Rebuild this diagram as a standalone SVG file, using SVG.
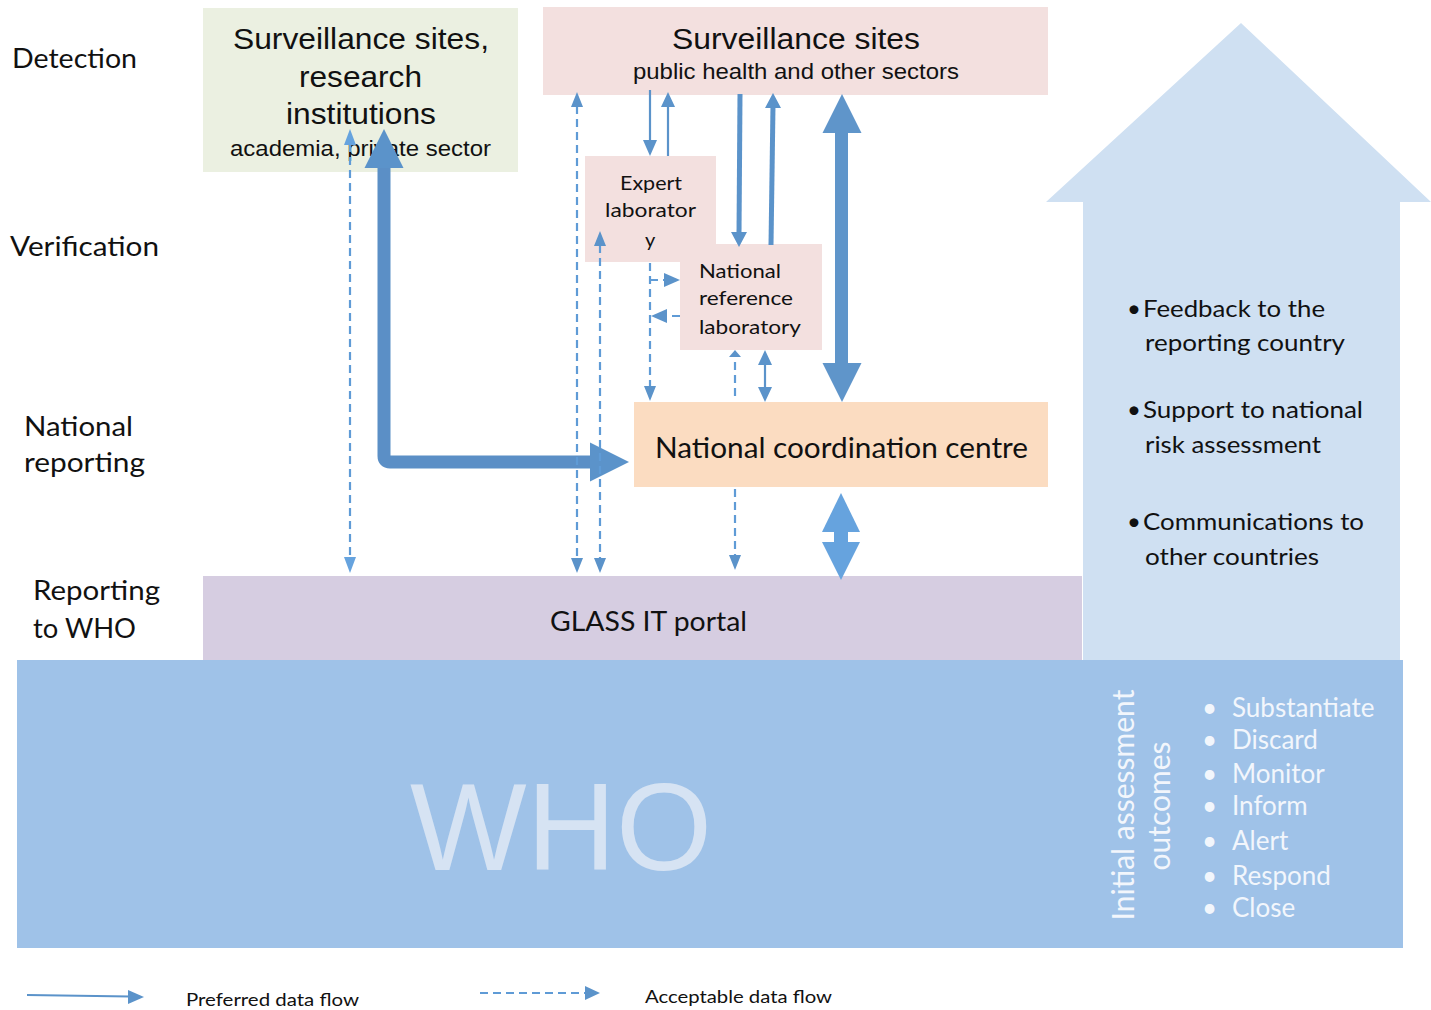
<svg xmlns="http://www.w3.org/2000/svg" width="1431" height="1010" viewBox="0 0 1431 1010">
<defs>
<style>
.arial{font-family:"Liberation Sans",Arial,sans-serif;fill:#111}
.cal{font-family:Lato,"Open Sans",sans-serif;fill:#111}
.wt{font-family:Lato,"Open Sans",sans-serif;fill:#F2F6FC}
.dash{stroke:#5F9BD6;stroke-width:2.2;stroke-dasharray:8 5;fill:none}
.thin{stroke:#5B93CA;stroke-width:2.2;fill:none}
.head{fill:#5B93CA}
.lhead{fill:#66A3DE}
</style>
</defs>
<rect width="1431" height="1010" fill="#fff"/>

<g id="feedback-arrow">
<polygon points="1046,202 1241,23 1431,202 1400,202 1400,660 1083,660 1083,202" fill="#CFE0F2"/>
<g class="cal" font-size="24" lengthAdjust="spacingAndGlyphs">
<text x="1127" y="317">•</text><text x="1143" y="317" textLength="182" lengthAdjust="spacingAndGlyphs">Feedback to the</text><text x="1145" y="351" textLength="200" lengthAdjust="spacingAndGlyphs">reporting country</text>
<text x="1127" y="418">•</text><text x="1143" y="418" textLength="220" lengthAdjust="spacingAndGlyphs">Support to national</text><text x="1145" y="453" textLength="176" lengthAdjust="spacingAndGlyphs">risk assessment</text>
<text x="1127" y="530">•</text><text x="1143" y="530" textLength="221" lengthAdjust="spacingAndGlyphs">Communications to</text><text x="1145" y="565" textLength="174" lengthAdjust="spacingAndGlyphs">other countries</text>
</g>
</g>

<g id="stage-labels" class="cal" font-size="26">
<text x="12" y="68" textLength="125" lengthAdjust="spacingAndGlyphs">Detection</text>
<text x="10" y="256" textLength="149" lengthAdjust="spacingAndGlyphs">Verification</text>
<text x="24" y="436" textLength="109" lengthAdjust="spacingAndGlyphs">National</text>
<text x="24" y="472" textLength="121" lengthAdjust="spacingAndGlyphs">reporting</text>
<text x="33" y="600" textLength="127" lengthAdjust="spacingAndGlyphs">Reporting</text>
<text x="33" y="638" textLength="103" lengthAdjust="spacingAndGlyphs">to WHO</text>
</g>

<g id="research-sites">
<rect x="203" y="8" width="315" height="164" fill="#EBF0E1"/>
<text class="arial" font-size="30" x="233" y="49" textLength="256" lengthAdjust="spacingAndGlyphs">Surveillance sites,</text>
<text class="arial" font-size="30" x="299" y="87" textLength="123" lengthAdjust="spacingAndGlyphs">research</text>
<text class="arial" font-size="30" x="286" y="124" textLength="150" lengthAdjust="spacingAndGlyphs">institutions</text>
<text class="arial" font-size="22" x="230" y="156" textLength="261" lengthAdjust="spacingAndGlyphs">academia, private sector</text>
</g>

<g id="public-sites">
<rect x="543" y="7" width="505" height="88" fill="#F3E0DF"/>
<text class="arial" font-size="30" x="672" y="49" textLength="248" lengthAdjust="spacingAndGlyphs">Surveillance sites</text>
<text class="arial" font-size="22" x="633" y="79" textLength="326" lengthAdjust="spacingAndGlyphs">public health and other sectors</text>
</g>

<g id="expert-lab">
<rect x="585" y="156" width="131" height="106" fill="#F3E0DF"/>
<text class="cal" font-size="20" x="620" y="190" textLength="62" lengthAdjust="spacingAndGlyphs">Expert</text>
<text class="cal" font-size="20" x="605" y="217" textLength="91" lengthAdjust="spacingAndGlyphs">laborator</text>
<text class="cal" font-size="20" x="645" y="247">y</text>
</g>

<g id="national-ref-lab">
<rect x="680" y="244" width="142" height="106" fill="#F3E0DF"/>
<text class="cal" font-size="20" x="699" y="278" textLength="82" lengthAdjust="spacingAndGlyphs">National</text>
<text class="cal" font-size="20" x="699" y="305" textLength="94" lengthAdjust="spacingAndGlyphs">reference</text>
<text class="cal" font-size="20" x="699" y="334" textLength="102" lengthAdjust="spacingAndGlyphs">laboratory</text>
</g>

<g id="ncc">
<rect x="634" y="402" width="414" height="85" fill="#FBDCC1"/>
<text class="cal" font-size="28" x="655" y="458" textLength="373" lengthAdjust="spacingAndGlyphs">National coordination centre</text>
</g>

<g id="glass">
<rect x="203" y="576" width="879" height="84" fill="#D6CDE1"/>
<text class="cal" font-size="26" x="550" y="631" textLength="197" lengthAdjust="spacingAndGlyphs">GLASS IT portal</text>
</g>

<g id="who">
<rect x="17" y="660" width="1386" height="288" fill="#9FC2E8"/>
<text x="410" y="870" font-family="Liberation Sans,Arial,sans-serif" font-size="125" fill="#D6E3F3" textLength="302" lengthAdjust="spacingAndGlyphs">WHO</text>
<text class="wt" font-size="30" text-anchor="middle" transform="rotate(-90 1134 805)" x="1134" y="805">Initial assessment</text>
<text class="wt" font-size="30" text-anchor="middle" transform="rotate(-90 1170 806)" x="1170" y="806">outcomes</text>
<g class="wt" font-size="26">
<text x="1202" y="717">•</text><text x="1232" y="717">Substantiate</text>
<text x="1202" y="749">•</text><text x="1232" y="749">Discard</text>
<text x="1202" y="783">•</text><text x="1232" y="783">Monitor</text>
<text x="1202" y="815">•</text><text x="1232" y="815">Inform</text>
<text x="1202" y="850">•</text><text x="1232" y="850">Alert</text>
<text x="1202" y="885">•</text><text x="1232" y="885">Respond</text>
<text x="1202" y="917">•</text><text x="1232" y="917">Close</text>
</g>
</g>

<g id="connectors">
<line class="dash" x1="350" y1="144" x2="350" y2="558"/>
<polygon class="lhead" points="350,129 344,145 356,145"/>
<polygon class="lhead" points="350,573 344,557 356,557"/>
<path d="M384,166 V456 Q384,462 390,462 H592" stroke="#5B8FC6" stroke-width="13" fill="none"/>
<polygon class="head" points="384,129 364.5,168 403.5,168"/>
<polygon class="head" points="629,462 590,442.5 590,481.5"/>
<line class="dash" x1="577" y1="106" x2="577" y2="558"/>
<polygon class="head" points="577,92 571,107 583,107"/>
<polygon class="head" points="577,573 571,558 583,558"/>
<line class="dash" x1="600" y1="245" x2="600" y2="558"/>
<polygon class="head" points="600,231 594,246 606,246"/>
<polygon class="head" points="600,573 594,558 606,558"/>
<line class="thin" x1="650" y1="90" x2="650" y2="142"/>
<polygon class="head" points="650,156 643,140 657,140"/>
<line class="thin" x1="668" y1="156" x2="668" y2="105"/>
<polygon class="head" points="668,92 661,107 675,107"/>
<line x1="740" y1="94" x2="739" y2="234" stroke="#5B93CA" stroke-width="5"/>
<polygon class="head" points="739,247 731,232 747,232"/>
<line x1="771" y1="245" x2="773" y2="105" stroke="#5B93CA" stroke-width="5"/>
<polygon class="head" points="773,93 765,108 781,108"/>
<rect x="835" y="130" width="13" height="236" fill="#5F95CA"/>
<polygon fill="#5F95CA" points="842,94 822.5,133 861.5,133"/>
<polygon fill="#5F95CA" points="842,402 822.5,363 861.5,363"/>
<line class="dash" x1="650" y1="263" x2="650" y2="387"/>
<polygon class="head" points="650,401 644,386 656,386"/>
<line class="dash" x1="650" y1="280" x2="665" y2="280" stroke-dasharray="5 4"/>
<polygon class="head" points="680,280 664,273 664,287"/>
<line class="dash" x1="680" y1="316" x2="665" y2="316" stroke-dasharray="5 4"/>
<polygon class="head" points="651,316 667,309 667,323"/>
<line class="dash" x1="735" y1="362" x2="735" y2="400"/>
<polygon class="head" points="735,350 729,357 741,357"/>
<line class="dash" x1="735" y1="489" x2="735" y2="556"/>
<polygon class="head" points="735,570 729,555 741,555"/>
<line class="thin" x1="765" y1="364" x2="765" y2="388"/>
<polygon class="head" points="765,350 758,365 772,365"/>
<polygon class="head" points="765,402 758,387 772,387"/>
<rect x="834" y="530" width="14" height="14" fill="#66A3DE"/>
<polygon class="lhead" points="841,493 822,532 860,532"/>
<polygon class="lhead" points="841,580 822,542 860,542"/>
</g>

<g id="legend">
<line x1="27" y1="995" x2="130" y2="996.5" stroke="#5B93CA" stroke-width="2.2"/>
<polygon class="head" points="144,997 128,990 128,1004"/>
<text class="cal" font-size="18" x="186" y="1006" textLength="173" lengthAdjust="spacingAndGlyphs">Preferred data flow</text>
<line class="dash" x1="480" y1="993" x2="586" y2="993" stroke-dasharray="6 5" stroke="#5B93CA"/>
<polygon class="head" points="600,993 585,986 585,1000"/>
<text class="cal" font-size="18" x="645" y="1003" textLength="187" lengthAdjust="spacingAndGlyphs">Acceptable data flow</text>
</g>
</svg>
